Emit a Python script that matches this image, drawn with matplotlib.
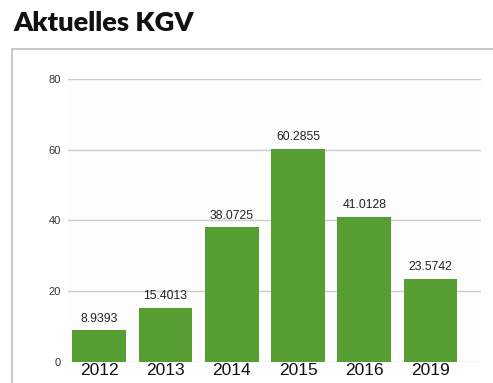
import matplotlib.pyplot as plt
from matplotlib.patches import Rectangle

# KGV (Kurs-Gewinn-Verhaeltnis) per year
years = ["2012", "2013", "2014", "2015", "2016", "2019"]
kgv = [8.9393, 15.4013, 38.0725, 60.2855, 41.0128, 23.5742]
y_ticks = [0, 20, 40, 60, 80]

W, H = 493, 383
fig = plt.figure(figsize=(W / 100, H / 100), dpi=100)
fig.patch.set_facecolor("white")

# grey frame around the chart, open to the right and bottom
fig.patches.append(Rectangle((12 / W, -0.1), 1.2, (H - 49) / H + 0.1,
                             transform=fig.transFigure, fill=False,
                             edgecolor="#c4c4c4", linewidth=1.3))

fig.text(13 / W, 1 - 31 / H, "Aktuelles KGV", family="Lato",
         fontweight="heavy", fontsize=19.6, color="#111111", va="baseline")

ax = fig.add_axes([68 / W, (H - 362) / H, (481 - 68) / W, (362 - 79) / H])
ax.set_facecolor("#fdfdfd")

x = range(len(years))
bars = ax.bar(x, kgv, width=0.81, color="#569e31", zorder=3)
for xi, v in zip(x, kgv):
    ax.text(xi, v + 1.6, f"{v:g}", ha="center", va="bottom",
            fontsize=8.8, color="#222222", family="Liberation Sans")

ax.set_xlim(-0.47, 5.76)
ax.set_ylim(0, 80)
ax.set_yticks(y_ticks)
ax.set_xticks(list(x))
ax.set_xticklabels(years)
ax.grid(axis="y", color="#cccccc", linewidth=1, zorder=0)
ax.tick_params(length=0)
ax.tick_params(axis="y", labelsize=8, labelcolor="#333333", pad=5)
ax.tick_params(axis="x", labelsize=12.5, labelcolor="#111111", pad=1)
for lab in ax.get_xticklabels() + ax.get_yticklabels():
    lab.set_family("Liberation Sans")
for s in ax.spines.values():
    s.set_visible(False)

fig.savefig("out.png", dpi=100)
